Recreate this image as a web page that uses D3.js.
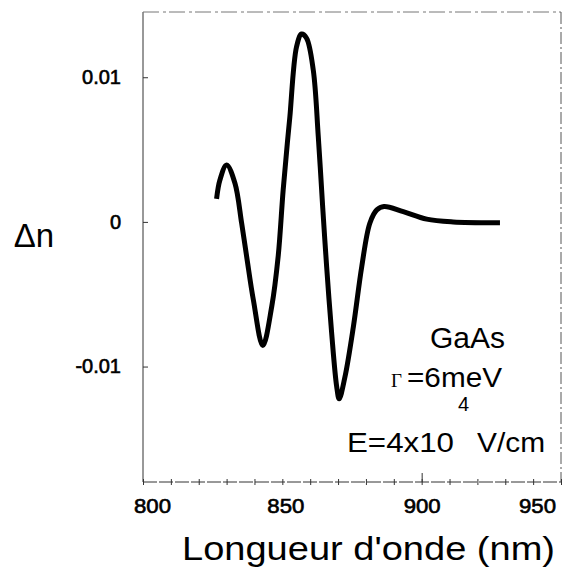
<!DOCTYPE html>
<html><head><meta charset="utf-8">
<script src="https://cdn.jsdelivr.net/npm/d3@7"></script>
<style>body{margin:0;background:#fff}svg{display:block}</style>
</head><body><svg id="c" width="567" height="569"></svg>
<script>
// ---- data ----
const wavelength = [826.4, 827.6, 830.0, 833.0, 835.4, 837.2, 839.6, 843.0, 846.2, 848.5, 850.3, 851.8, 852.7, 855.1, 856.9, 858.7, 861.1, 862.9, 864.5, 865.9, 867.7, 869.5, 870.4, 872.5, 875.5, 878.5, 881.4, 883.9, 886.5, 893.4, 901.8, 911.3, 928.1];
const deltaN = [0.00159, 0.00290, 0.00394, 0.00267, -0.00009, -0.00240, -0.00539, -0.00855, -0.00585, -0.00240, 0.00221, 0.00546, 0.00726, 0.01211, 0.01299, 0.01270, 0.01050, 0.00590, 0.00097, -0.00309, -0.00769, -0.01138, -0.01223, -0.01069, -0.00724, -0.00309, -0.00009, 0.00083, 0.00107, 0.00071, 0.00019, 0.00000, -0.00005];
const xTicks = [800, 850, 900, 950];
const xTickLabels = ["800", "850", "900", "950"];
const xMinorTicks = d3.range(800, 951, 10);
const yTicks = [-0.01, 0, 0.01];
const yTickLabels = ["-0.01", "0", "0.01"];
const xTitle = "Longueur d'onde (nm)";
const yTitle = "Δn";
const notes = ["GaAs", "Γ", "=6meV", "E=4x10", "4", "V/cm"];

// ---- drawing ----
const svg = d3.select("#c");
const L = 143, R = 561, T = 12, B = 482;
const x = d3.scaleLinear().domain([800, 950]).range([L, R]);
const y = d3.scaleLinear().domain([-0.01798, 0.01451]).range([B, T]);
const font = "'Liberation Sans', Arial, Helvetica, sans-serif";

// frame
svg.append("line").attr("x1", L).attr("x2", L).attr("y1", T).attr("y2", B).attr("stroke", "#333").attr("stroke-width", 1);
svg.append("line").attr("x1", L).attr("x2", R).attr("y1", B).attr("y2", B).attr("stroke", "#333").attr("stroke-width", 1).attr("stroke-dasharray", "14,2");
svg.append("line").attr("x1", L).attr("x2", R).attr("y1", T).attr("y2", T).attr("stroke", "#777").attr("stroke-width", 1).attr("stroke-dasharray", "16,4,3,3");
svg.append("line").attr("x1", R).attr("x2", R).attr("y1", T).attr("y2", B).attr("stroke", "#555").attr("stroke-width", 1).attr("stroke-dasharray", "12,3,2,3");

// bottom axis: minor ticks
const gx = svg.append("g").attr("transform", `translate(0,${B})`);
gx.call(d3.axisBottom(x).tickValues(xMinorTicks).tickSize(3).tickFormat(""))
  .call(g => g.select(".domain").remove())
  .call(g => g.selectAll(".tick line").attr("y1", -3).attr("stroke", "#333"));
// major labels
const labelDx = [9, 3, 0, -24];
const gxl = svg.append("g").attr("transform", `translate(0,${B})`);
gxl.call(d3.axisBottom(x).tickValues(xTicks).tickSize(0).tickPadding(17).tickFormat((d, i) => xTickLabels[i]))
  .call(g => g.select(".domain").remove())
  .call(g => g.selectAll(".tick text").attr("font-family", font).attr("font-size", 20).attr("fill", "#000")
      .attr("stroke", "#000").attr("stroke-width", 0.6)
      .attr("dx", (d, i) => labelDx[i]).attr("textLength", 37).attr("lengthAdjust", "spacingAndGlyphs"));
gxl.selectAll(".tick").filter(d => d === 900).append("line").attr("y1", 0).attr("y2", -9).attr("stroke", "#333");

// left axis
const gy = svg.append("g").attr("transform", `translate(${L},0)`);
gy.call(d3.axisLeft(y).tickValues(yTicks).tickSize(-5).tickPadding(22).tickFormat((d, i) => yTickLabels[i]))
  .call(g => g.select(".domain").remove())
  .call(g => g.selectAll(".tick line").attr("stroke", "#333"))
  .call(g => g.selectAll(".tick text").attr("font-family", font).attr("font-size", 20).attr("fill", "#000")
      .attr("stroke", "#000").attr("stroke-width", 0.6));

// curve
const pts = wavelength.map((w, i) => [w, deltaN[i]]);
svg.append("path").datum(pts)
  .attr("d", d3.line().x(d => x(d[0])).y(d => y(d[1])).curve(d3.curveCatmullRom.alpha(0.5)))
  .attr("fill", "none").attr("stroke", "#000").attr("stroke-width", 5)
  .attr("stroke-linejoin", "round").attr("stroke-linecap", "butt");

// titles
svg.append("text").attr("x", 34).attr("y", 247).attr("text-anchor", "middle")
  .attr("font-family", font).attr("font-size", 33).attr("fill", "#000").text(yTitle);
svg.append("text").attr("x", 182).attr("y", 560)
  .attr("font-family", font).attr("font-size", 33).attr("fill", "#000")
  .attr("textLength", 373).attr("lengthAdjust", "spacingAndGlyphs").text(xTitle);

// annotations
svg.append("text").attr("x", 430).attr("y", 348).attr("font-family", font).attr("font-size", 29).attr("fill", "#000")
  .attr("textLength", 75).attr("lengthAdjust", "spacingAndGlyphs").text(notes[0]);
svg.append("text").attr("x", 391).attr("y", 387).attr("font-family", "'Liberation Serif', 'Times New Roman', serif").attr("font-size", 19).attr("fill", "#000").text(notes[1]);
svg.append("text").attr("x", 407).attr("y", 387).attr("font-family", font).attr("font-size", 27).attr("fill", "#000")
  .attr("textLength", 95).attr("lengthAdjust", "spacingAndGlyphs").text(notes[2]);
svg.append("text").attr("x", 347).attr("y", 452).attr("font-family", font).attr("font-size", 28).attr("fill", "#000")
  .attr("textLength", 107).attr("lengthAdjust", "spacingAndGlyphs").text(notes[3]);
svg.append("text").attr("x", 458).attr("y", 411).attr("font-family", font).attr("font-size", 20).attr("fill", "#000").text(notes[4]);
svg.append("text").attr("x", 477).attr("y", 452).attr("font-family", font).attr("font-size", 28).attr("fill", "#000")
  .attr("textLength", 68).attr("lengthAdjust", "spacingAndGlyphs").text(notes[5]);
</script>
</body></html>
